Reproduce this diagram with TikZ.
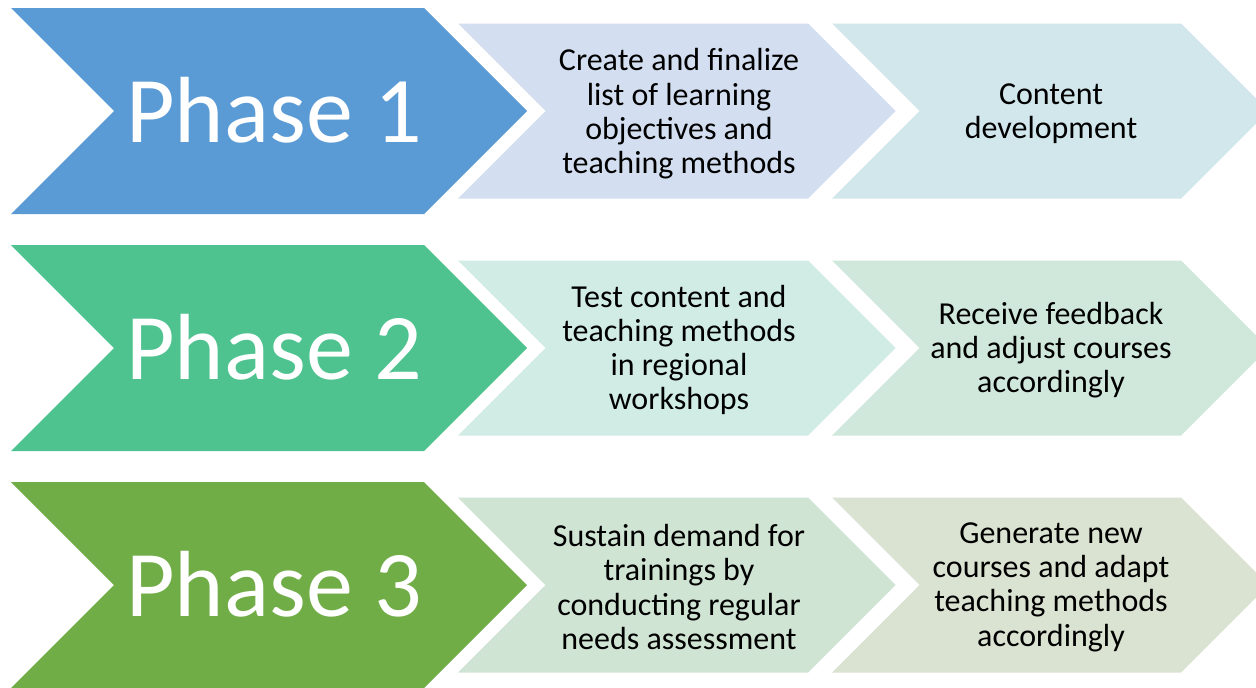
\documentclass[tikz,border=0pt]{standalone}
\usepackage{fontspec}
\setmainfont{Carlito}
\definecolor{ph1}{HTML}{5B9BD5}
\definecolor{ph2}{HTML}{4EC38F}
\definecolor{ph3}{HTML}{70AD47}
\definecolor{l1a}{HTML}{D3DFF0}
\definecolor{l1b}{HTML}{D2E7EC}
\definecolor{l2a}{HTML}{D0ECE4}
\definecolor{l2b}{HTML}{D0E8DC}
\definecolor{l3a}{HTML}{D0E4D3}
\definecolor{l3b}{HTML}{DAE3D2}
\newcommand{\chevshape}[5]{%
  \fill[#5] ({#1},{#3-#4}) -- ({#2},{#3-#4}) -- ({#2+#4},{#3}) -- ({#2},{#3+#4}) -- ({#1},{#3+#4}) -- ({#1+#4},{#3}) -- cycle;}
\tikzset{
  phasetext/.style={anchor=base, text=white, inner sep=0pt, font=\fontsize{94}{100}\selectfont},
  steptext/.style={align=center, text=black, inner sep=0pt, font=\fontsize{32}{34.3}\selectfont}
}
\begin{document}
\begin{tikzpicture}[x=1pt,y=-1pt]
\useasboundingbox (0,0) rectangle (1256,688);
\clip (0,0) rectangle (1256,688);
\fill[white] (0,0) rectangle (1256,688);
% row 1
\chevshape{11}{424}{111}{103}{ph1}
\chevshape{458}{808}{111}{87.5}{l1a}
\chevshape{832}{1181}{111}{87.5}{l1b}
% row 2
\chevshape{11}{424}{348}{103}{ph2}
\chevshape{458}{808}{348}{87.5}{l2a}
\chevshape{832}{1181}{348}{87.5}{l2b}
% row 3
\chevshape{11}{424}{585}{103}{ph3}
\chevshape{458}{808}{585}{87.5}{l3a}
\chevshape{832}{1181}{585}{87.5}{l3b}
% texts
\node[phasetext] (p1) at (274,142) {Phase 1};
\node[phasetext] (p2) at (274,379) {Phase 2};
\node[phasetext] (p3) at (274,616) {Phase 3};
\node[steptext] (a1) at (679,114) {Create and finalize\\list of learning\\objectives and\\teaching methods};
\node[steptext] (b1) at (1051,114) {Content\\development};
\node[steptext] (a2) at (679,350) {Test content and\\teaching methods\\in regional\\workshops};
\node[steptext] (b2) at (1051,350) {Receive feedback\\and adjust courses\\accordingly};
\node[steptext] (a3) at (679,587) {Sustain demand for\\trainings by\\conducting regular\\needs assessment};
\node[steptext] (b3) at (1051,587) {Generate new\\courses and adapt\\teaching methods\\accordingly};
\end{tikzpicture}
\end{document}
